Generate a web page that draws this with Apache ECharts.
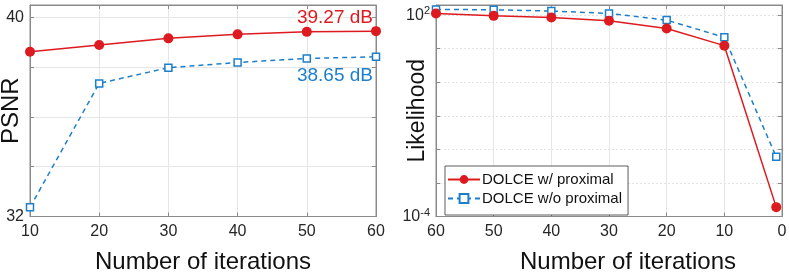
<!DOCTYPE html>
<html>
<head>
<meta charset="utf-8">
<script src="https://cdn.jsdelivr.net/npm/echarts@6/dist/echarts.min.js"></script>
<style>
html,body{margin:0;padding:0;background:#fff;}
#c{width:789px;height:280px;}
</style>
</head>
<body>
<div id="c"></div>
<script>
// ---- data ----
var psnrIters = [10, 20, 30, 40, 50, 60];
var psnrWithProx = [38.62, 38.89, 39.16, 39.32, 39.42, 39.45];
var psnrWithoutProx = [32.37, 37.35, 37.98, 38.19, 38.35, 38.42];
var likeIters = [60, 50, 40, 30, 20, 10, 1];
var likeWithProx = [112, 95, 85, 68, 40, 12.3, 1.9e-4];
var likeWithoutProx = [148, 144, 132, 112, 71, 21.8, 6.0e-3];
var seriesNames = ['DOLCE w/ proximal', 'DOLCE w/o proximal'];
var psnrAnnot = ['39.27 dB', '38.65 dB'];
var xTitle = 'Number of iterations';
var yTitles = ['PSNR', 'Likelihood'];

var RED = '#dd1a1f', BLUE = '#1d7fcb', AX = '#8a8a8a', TXT = '#262626';
var FONT = '"Liberation Sans", Arial, Helvetica, sans-serif';

function pairs(xs, ys) { return xs.map(function (x, i) { return [x, ys[i]]; }); }

var chart = echarts.init(document.getElementById('c'), null, {renderer: 'canvas'});

var gridL = {left: 30, top: 5, width: 346, height: 211.5};
var gridR = {left: 436, top: 5, width: 346, height: 211.5};

var tickStyle = {show: true, inside: true, length: 4, lineStyle: {color: AX}};
var lineAx = {show: true, onZero: false, lineStyle: {color: AX, width: 1}};
var labelStyle = {color: TXT, fontSize: 16, fontFamily: FONT};

function redSeries(data, xi, yi) {
  return {
    name: seriesNames[0], type: 'line', xAxisIndex: xi, yAxisIndex: yi, data: data,
    symbol: 'circle', symbolSize: 10, showSymbol: true,
    itemStyle: {color: RED}, lineStyle: {color: RED, width: 1.5}, z: 3, animation: false
  };
}
function blueSeries(data, xi, yi) {
  return {
    name: seriesNames[1], type: 'line', xAxisIndex: xi, yAxisIndex: yi, data: data,
    symbol: 'rect', symbolSize: 7, showSymbol: true,
    itemStyle: {color: '#fff', borderColor: BLUE, borderWidth: 1.5},
    lineStyle: {color: BLUE, width: 1.5, type: [5, 4]}, z: 2, animation: false
  };
}

var gridCommon = {show: true, borderColor: AX, borderWidth: 1, containLabel: false, outerBoundsMode: 'none'};

var option = {
  animation: false,
  backgroundColor: '#fff',
  textStyle: {fontFamily: FONT},
  grid: [
    Object.assign({}, gridCommon, gridL),
    Object.assign({}, gridCommon, gridR)
  ],
  legend: {
    data: seriesNames,
    orient: 'vertical', left: 445, top: 166,
    itemWidth: 32, itemHeight: 11, itemGap: 4,
    padding: [6, 6, 9, 2],
    borderColor: '#333', borderWidth: 0.8, backgroundColor: '#fff',
    textStyle: {fontSize: 15, lineHeight: 15, color: '#111', fontFamily: FONT, padding: [0, 0, 0, -3]}
  },
  xAxis: [
    {
      type: 'value', gridIndex: 0, min: 10, max: 60, interval: 10,
      axisLine: lineAx, axisTick: tickStyle,
      axisLabel: Object.assign({margin: 7}, labelStyle),
      splitLine: {show: true, lineStyle: {color: '#e6e6e6', width: 1}},
      name: xTitle, nameLocation: 'middle', nameGap: 34, nameMoveOverlap: false,
      nameTextStyle: {fontSize: 24, color: '#111', fontFamily: FONT}
    },
    {
      type: 'value', gridIndex: 1, min: 0, max: 60, interval: 10, inverse: true,
      axisLine: lineAx, axisTick: tickStyle,
      axisLabel: Object.assign({margin: 7}, labelStyle),
      splitLine: {show: true, lineStyle: {color: '#e6e6e6', width: 1}},
      name: xTitle, nameLocation: 'middle', nameGap: 34, nameMoveOverlap: false,
      nameTextStyle: {fontSize: 24, color: '#111', fontFamily: FONT, padding: [0, 0, 0, 38]}
    },
    {
      type: 'value', gridIndex: 0, position: 'top', min: 10, max: 60, interval: 10,
      axisLine: lineAx, axisTick: tickStyle, axisLabel: {show: false}, splitLine: {show: false}
    },
    {
      type: 'value', gridIndex: 1, position: 'top', min: 0, max: 60, interval: 10, inverse: true,
      axisLine: lineAx, axisTick: tickStyle, axisLabel: {show: false}, splitLine: {show: false}
    }
  ],
  yAxis: [
    {
      type: 'value', gridIndex: 0, min: 32, max: 40.5, interval: 2,
      axisLine: lineAx, axisTick: tickStyle,
      axisLabel: Object.assign({margin: 6, formatter: function (v) {
        return (v === 32 || v === 40) ? String(v) : '';
      }}, labelStyle),
      splitLine: {show: true, lineStyle: {color: '#e6e6e6', width: 1}},
      name: yTitles[0], nameLocation: 'middle', nameGap: 7, nameMoveOverlap: false,
      nameTextStyle: {fontSize: 24, color: '#111', fontFamily: FONT}
    },
    {
      type: 'log', logBase: 10, gridIndex: 1, min: 1e-4, max: 200,
      axisLine: lineAx, axisTick: tickStyle,
      axisLabel: {
        margin: 6, color: TXT, fontFamily: FONT,
        formatter: function (v) {
          var e = Math.round(Math.log10(v));
          if (Math.abs(Math.log10(v) - e) > 1e-6) return '';
          if (e === 2 || e === -4) return '{b|10}{s|' + e + '}';
          return '';
        },
        rich: {
          b: {fontSize: 16, color: TXT, fontFamily: FONT},
          s: {fontSize: 11, color: TXT, fontFamily: FONT, verticalAlign: 'top', padding: [0, 0, 8, 0]}
        }
      },
      splitLine: {show: true, lineStyle: {color: '#e3e3e3', width: 1, type: [2, 2]}},
      name: yTitles[1], nameLocation: 'middle', nameGap: 7, nameMoveOverlap: false,
      nameTextStyle: {fontSize: 23, color: '#111', fontFamily: FONT}
    },
    {
      type: 'value', gridIndex: 0, position: 'right', min: 32, max: 40.5, interval: 2,
      axisLine: lineAx, axisTick: tickStyle, axisLabel: {show: false}, splitLine: {show: false}
    },
    {
      type: 'log', logBase: 10, gridIndex: 1, position: 'right', min: 1e-4, max: 200,
      axisLine: lineAx, axisTick: tickStyle, axisLabel: {show: false}, splitLine: {show: false}
    }
  ],
  graphic: [
    {type: 'text', right: 789 - 373, top: 8, z: 100, style: {text: psnrAnnot[0], fill: RED, font: '19px ' + FONT}},
    {type: 'text', right: 789 - 373, top: 66, z: 100, style: {text: psnrAnnot[1], fill: BLUE, font: '19px ' + FONT}}
  ],
  series: [
    redSeries(pairs(psnrIters, psnrWithProx), 0, 0),
    blueSeries(pairs(psnrIters, psnrWithoutProx), 0, 0),
    redSeries(pairs(likeIters, likeWithProx), 1, 1),
    blueSeries(pairs(likeIters, likeWithoutProx), 1, 1)
  ]
};
chart.setOption(option);
</script>
</body>
</html>
